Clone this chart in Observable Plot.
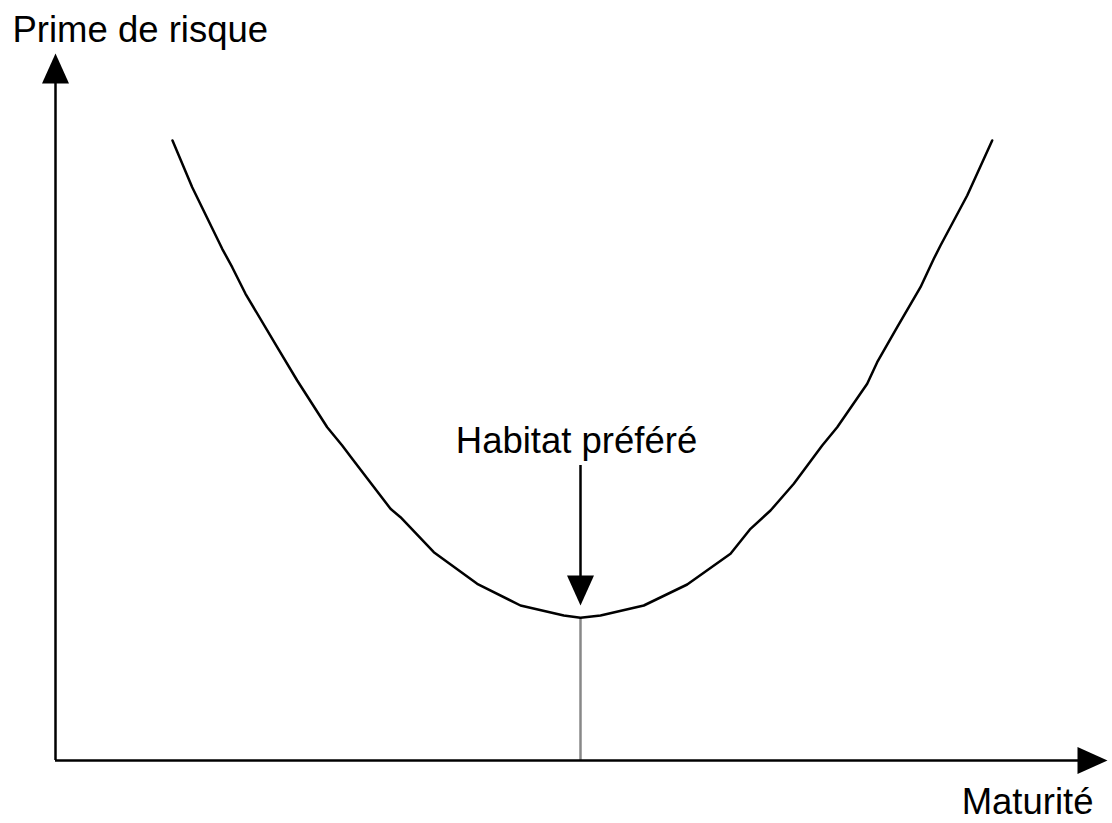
<!DOCTYPE html>
<html>
<head>
<meta charset="utf-8">
<script src="https://cdn.jsdelivr.net/npm/d3@7"></script>
<script src="https://cdn.jsdelivr.net/npm/@observablehq/plot@0.6"></script>
<style>
  html, body { margin: 0; padding: 0; background: #fff; }
  #chart svg { display: block; }
</style>
</head>
<body>
<div id="chart"></div>
<script>
// Curve: risk premium vs maturity (abstract units)
const curveX = [117, 136.7, 166.7, 176.7, 190, 221.7, 241.7, 271.7, 286.7, 296.7, 335, 345, 378.3, 421.7, 465, 508.3, 525, 545, 588.3, 631.7, 675, 695, 715, 738.3, 766.7, 781.7, 811.7, 821.7, 841.7, 865, 878.3, 885, 911.7, 936.7];
const curveY = [620, 573.3, 511.7, 493.3, 466.7, 413.3, 380, 333.3, 315, 301.7, 251.7, 243.3, 208.3, 176.7, 155, 145, 142.7, 145, 155, 176, 206.7, 231.7, 250, 276.7, 315, 333.3, 376.7, 398.3, 433.3, 473.3, 501.7, 515, 565, 620];

// Axis extents
const xMax = 1052;
const yMax = 707;

// Preferred habitat marker
const habitatX = 525;
const habitatMinY = 142.7;
const habitatArrowTop = 295;
const habitatArrowTip = 155;

// Texts
const yLabel = "Prime de risque";
const xLabel = "Maturité";
const habitatLabel = "Habitat préféré";

const curve = curveX.map((x, i) => ({x, y: curveY[i]}));

const arrowHead = {
  draw(ctx) {
    ctx.moveTo(0, 0);
    ctx.lineTo(13.5, 30);
    ctx.lineTo(-13.5, 30);
    ctx.closePath();
  }
};

const heads = [
  {x: 0, y: yMax, rot: 0},
  {x: xMax, y: 0, rot: 90},
  {x: habitatX, y: habitatArrowTip, rot: 180}
];

const textStyle = {lineAnchor: "bottom", fontSize: 36.5, fill: "black"};

const chart = Plot.plot({
  width: 1112,
  height: 823,
  marginLeft: 55,
  marginRight: 5,
  marginTop: 53,
  marginBottom: 63,
  style: {fontFamily: "'Liberation Sans', Arial, sans-serif", background: "#fff", overflow: "visible"},
  x: {domain: [0, xMax], axis: null},
  y: {domain: [0, yMax], axis: null},
  marks: [
    Plot.ruleX([habitatX], {y1: 0, y2: habitatMinY, stroke: "#888", strokeWidth: 2.5}),
    Plot.ruleX([0], {y1: 0, y2: yMax - 20, stroke: "black", strokeWidth: 2.5}),
    Plot.ruleY([0], {x1: 0, x2: xMax - 20, stroke: "black", strokeWidth: 2.5}),
    Plot.line(curve, {x: "x", y: "y", stroke: "black", strokeWidth: 2.5, curve: "linear", strokeLinejoin: "round"}),
    Plot.ruleX([habitatX], {y1: habitatArrowTop, y2: habitatArrowTip + 20, stroke: "black", strokeWidth: 2.5}),
    Plot.dot(heads, {x: "x", y: "y", rotate: "rot", symbol: arrowHead, fill: "black", stroke: "none"}),
    Plot.text([yLabel], {x: -43, y: 719, text: d => d, textAnchor: "start", ...textStyle}),
    Plot.text([xLabel], {x: 1038, y: -53, text: d => d, textAnchor: "end", ...textStyle}),
    Plot.text([habitatLabel], {x: 521, y: 307.7, text: d => d, textAnchor: "middle", ...textStyle})
  ]
});

document.getElementById("chart").appendChild(chart);
</script>
</body>
</html>
